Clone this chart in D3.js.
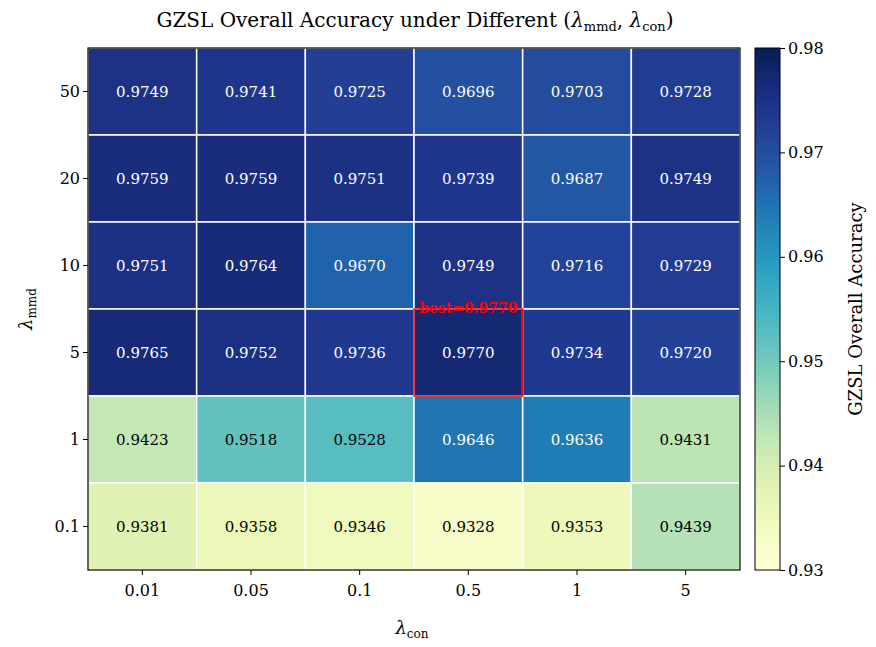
<!DOCTYPE html>
<html><head><meta charset="UTF-8">
<script src="https://cdn.jsdelivr.net/npm/d3@7"></script>
<style>
body{margin:0;background:#fff;}
text{font-family:"DejaVu Serif",serif;}
</style></head>
<body><svg id="chart" width="876" height="647"></svg>
<script>
var conLabels = ["0.01","0.05","0.1","0.5","1","5"];
var mmdLabels = ["50","20","10","5","1","0.1"];
var values = [
  [0.9749,0.9741,0.9725,0.9696,0.9703,0.9728],
  [0.9759,0.9759,0.9751,0.9739,0.9687,0.9749],
  [0.9751,0.9764,0.9670,0.9749,0.9716,0.9729],
  [0.9765,0.9752,0.9736,0.9770,0.9734,0.9720],
  [0.9423,0.9518,0.9528,0.9646,0.9636,0.9431],
  [0.9381,0.9358,0.9346,0.9328,0.9353,0.9439]
];
var cbTicks = [0.93,0.94,0.95,0.96,0.97,0.98];

var svg = d3.select("#chart");
var L=88,R=740,T=48,B=570;
var x = d3.scaleBand().domain(conLabels).range([L,R]);
var y = d3.scaleBand().domain(mmdLabels).range([T,B]);
var color = d3.scaleSequential(d3.interpolateYlGnBu).domain([0.93,0.98]);

var cells=[];
values.forEach(function(row,i){row.forEach(function(v,j){cells.push({r:mmdLabels[i],c:conLabels[j],v:v});});});

svg.selectAll("rect.cell").data(cells).enter().append("rect")
  .attr("x",d=>x(d.c)).attr("y",d=>y(d.r))
  .attr("width",x.bandwidth()).attr("height",y.bandwidth())
  .attr("fill",d=>color(d.v)).attr("stroke","#fff").attr("stroke-width",1.5);
svg.selectAll("text.val").data(cells).enter().append("text")
  .attr("x",d=>x(d.c)+x.bandwidth()/2).attr("y",d=>y(d.r)+y.bandwidth()/2)
  .attr("dy","0.35em").attr("text-anchor","middle").attr("font-size",15)
  .attr("fill",d=>d.v>0.955?"#fff":"#000").text(d=>d.v.toFixed(4));

var best = cells.reduce((a,b)=>b.v>a.v?b:a);
svg.append("rect").attr("x",x(best.c)).attr("y",y(best.r))
  .attr("width",x.bandwidth()).attr("height",y.bandwidth())
  .attr("fill","none").attr("stroke","red").attr("stroke-width",1.5);
svg.append("text").attr("x",x(best.c)+x.bandwidth()/2).attr("y",y(best.r)+4)
  .attr("text-anchor","middle").attr("font-size",14).attr("font-weight","bold")
  .attr("fill","red").text("best="+best.v.toFixed(4));

svg.append("rect").attr("x",L).attr("y",T).attr("width",R-L).attr("height",B-T)
  .attr("fill","none").attr("stroke","#000").attr("stroke-width",1.2);

var xa = svg.append("g").attr("transform","translate(0,"+B+")").call(d3.axisBottom(x).tickSizeOuter(0).tickSize(5));
var ya = svg.append("g").attr("transform","translate("+L+",0)").call(d3.axisLeft(y).tickSizeOuter(0).tickSize(5));
[xa,ya].forEach(function(a){a.select(".domain").remove();a.selectAll("text").attr("font-size",16).attr("font-family","DejaVu Serif").attr("fill","#000");});
xa.selectAll("text").attr("dy","1.1em");

// colorbar
var cx=755,cw=25;
var cy = d3.scaleLinear().domain([0.93,0.98]).range([B,T]);
var defs=svg.append("defs");
var g=defs.append("linearGradient").attr("id","cb").attr("x1",0).attr("y1",1).attr("x2",0).attr("y2",0);
d3.range(0,1.0001,0.05).forEach(function(t){g.append("stop").attr("offset",t).attr("stop-color",color(0.93+t*0.05));});
svg.append("rect").attr("x",cx).attr("y",T).attr("width",cw).attr("height",B-T).attr("fill","url(#cb)").attr("stroke","#000").attr("stroke-width",1);
var ca=svg.append("g").attr("transform","translate("+(cx+cw)+",0)").call(d3.axisRight(cy).tickValues(cbTicks).tickFormat(d=>d3.format(".2f")(d).replace(/0$/,"")).tickSize(5));
ca.select(".domain").remove();
ca.selectAll("text").attr("font-size",16).attr("font-family","DejaVu Serif").attr("fill","#000");
ca.selectAll("text").text(d=>String(+d.toFixed(2)));

svg.append("text").attr("transform","translate(862,309) rotate(-90)").attr("text-anchor","middle")
  .attr("font-size",18).text("GZSL Overall Accuracy");

// title
var tt=svg.append("text").attr("x",415).attr("y",27).attr("text-anchor","middle").attr("font-size",20);
tt.append("tspan").text("GZSL Overall Accuracy under Different (");
tt.append("tspan").attr("font-style","italic").text("λ");
tt.append("tspan").attr("font-size",13).attr("dy",4).text("mmd");
tt.append("tspan").attr("dy",-4).text(", ");
tt.append("tspan").attr("font-style","italic").text("λ");
tt.append("tspan").attr("font-size",13).attr("dy",4).text("con");
tt.append("tspan").attr("dy",-4).text(")");

var xl=svg.append("text").attr("x",412).attr("y",634).attr("text-anchor","middle").attr("font-size",18);
xl.append("tspan").attr("font-style","italic").text("λ");
xl.append("tspan").attr("font-size",12).attr("dy",4).text("con");

var yl=svg.append("text").attr("transform","translate(32,309) rotate(-90)").attr("text-anchor","middle").attr("font-size",18);
yl.append("tspan").attr("font-style","italic").text("λ");
yl.append("tspan").attr("font-size",12).attr("dy",4).text("mmd");
</script></body></html>
